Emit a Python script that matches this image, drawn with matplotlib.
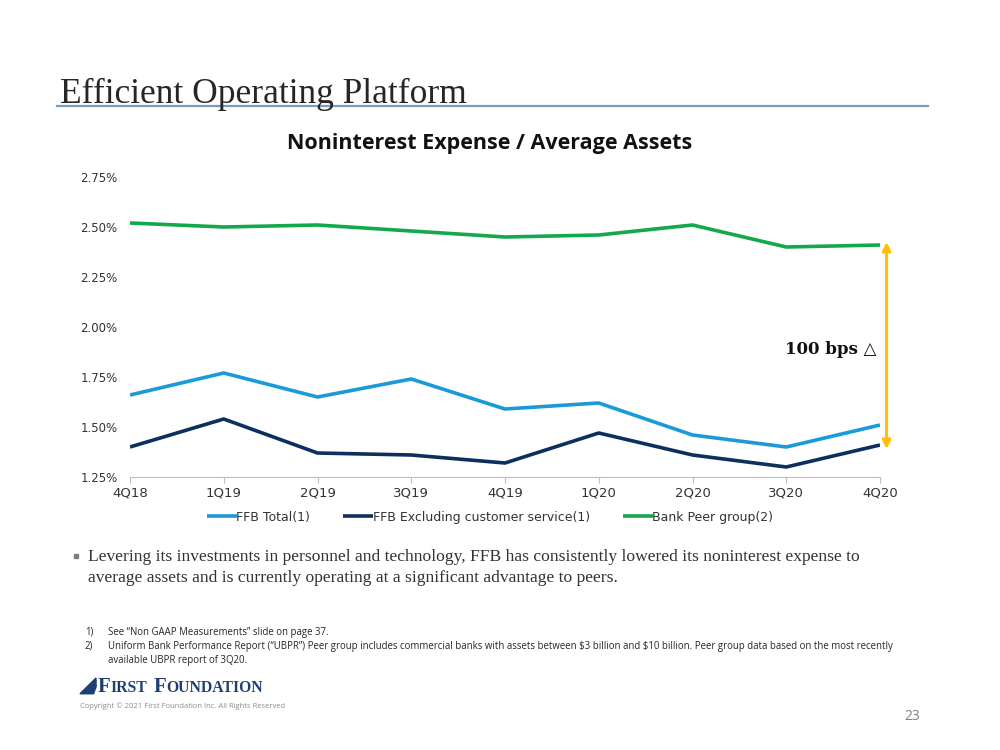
import matplotlib
matplotlib.use("Agg")
import matplotlib.pyplot as plt
from matplotlib.patches import Polygon
from matplotlib.ticker import FuncFormatter

quarters = ["4Q18", "1Q19", "2Q19", "3Q19", "4Q19", "1Q20", "2Q20", "3Q20", "4Q20"]
ffb_total = [1.66, 1.77, 1.65, 1.74, 1.59, 1.62, 1.46, 1.40, 1.51]
ffb_ex_cs = [1.40, 1.54, 1.37, 1.36, 1.32, 1.47, 1.36, 1.30, 1.41]
bank_peer = [2.52, 2.50, 2.51, 2.48, 2.45, 2.46, 2.51, 2.40, 2.41]
series_names = ["FFB Total(1)", "FFB Excluding customer service(1)", "Bank Peer group(2)"]
series_colors = ["#1a9ad9", "#0c2f5d", "#13a84b"]

fig = plt.figure(figsize=(10, 7.5), dpi=100)

# slide header
fig.text(0.060, 0.863, "Efficient Operating Platform", fontsize=25.5,
         family="Liberation Serif", color="#262626", va="baseline")
fig.add_artist(plt.Line2D([0.057, 0.928], [0.859, 0.859], color="#7a9cb8", lw=1.6))

ax = fig.add_axes([0.13, 0.364, 0.75, 0.40])
x = range(len(quarters))
for vals, name, col in zip([ffb_total, ffb_ex_cs, bank_peer], series_names, series_colors):
    ax.plot(x, vals, color=col, lw=2.6, label=name, solid_capstyle="butt")

ax.set_xlim(0, len(quarters) - 1)
ax.set_ylim(1.25, 2.75)
ax.set_yticks([1.25, 1.50, 1.75, 2.00, 2.25, 2.50, 2.75])
ax.yaxis.set_major_formatter(FuncFormatter(lambda v, p: f"{v:.2f}%"))
ax.set_xticks(list(x))
ax.set_xticklabels(quarters)
for s in ["top", "right", "left"]:
    ax.spines[s].set_visible(False)
ax.spines["bottom"].set_color("#bfbfbf")
ax.tick_params(axis="y", length=0, labelsize=8.5, labelcolor="#333333", pad=9)
ax.tick_params(axis="x", length=4, color="#bfbfbf", labelsize=9.5, labelcolor="#333333", pad=3)

ax.set_title("Noninterest Expense / Average Assets", fontsize=15.5, fontweight="bold",
             family="Open Sans", color="#111111", pad=20, x=0.48)

# 100 bps gap arrow between peer group and FFB
ax.annotate("", xy=(8.07, 1.39), xytext=(8.07, 2.425),
            arrowprops=dict(arrowstyle="<|-|>", color="#ffc000", lw=2.2,
                            mutation_scale=12, shrinkA=0, shrinkB=0),
            annotation_clip=False)
ax.text(7.96, 1.885, "100 bps \u25b3", ha="right", va="center", fontsize=12,
        fontweight="bold", family="DejaVu Serif", color="#111111")

leg = ax.legend(loc="upper center", bbox_to_anchor=(0.48, -0.075), ncol=3, frameon=False,
                fontsize=9, handlelength=2.4, handletextpad=0.0, columnspacing=2.6)
for t in leg.get_texts():
    t.set_color("#333333")

# bullet commentary
fig.add_artist(Polygon([[0.074, 0.261], [0.078, 0.261], [0.078, 0.256], [0.074, 0.256]],
                       closed=True, color="#7f7f7f", transform=fig.transFigure))
fig.text(0.088, 0.257, "Levering its investments in personnel and technology, FFB has consistently lowered its noninterest expense to",
         fontsize=12.6, family="Liberation Serif", color="#333333", va="center")
fig.text(0.088, 0.229, "average assets and is currently operating at a significant advantage to peers.",
         fontsize=12.6, family="Liberation Serif", color="#333333", va="center")

# footnotes
fn = dict(fontsize=6.9, family="Open Sans", color="#262626", va="center")
fig.text(0.085, 0.157, "1)", **fn)
fig.text(0.108, 0.157, "See \u201cNon GAAP Measurements\u201d slide on page 37.", **fn)
fig.text(0.085, 0.138, "2)", **fn)
fig.text(0.108, 0.138, "Uniform Bank Performance Report (\u201cUBPR\u201d) Peer group includes commercial banks with assets between \\$3 billion and \\$10 billion. Peer group data based on the most recently", **fn)
fig.text(0.108, 0.119, "available UBPR report of 3Q20.", **fn)

# logo and footer
for i in range(4):
    dx = i * 0.0035
    fig.add_artist(Polygon([[0.080 + dx, 0.075], [0.083 + dx, 0.075],
                            [0.096, 0.093 - i * 0.003], [0.096, 0.096 - i * 0.003]],
                           closed=True, color="#1f3f73", transform=fig.transFigure))
fig.canvas.draw()
renderer = fig.canvas.get_renderer()
xpos = 0.098
for piece, size in [("F", 15), ("IRST", 11.3), (" ", 11.3), ("F", 15), ("OUNDATION", 11.3)]:
    t = fig.text(xpos, 0.077, piece, fontsize=size, family="Liberation Serif",
                 fontweight="bold", color="#1f3f73", va="baseline")
    bb = t.get_window_extent(renderer)
    xpos += bb.width / fig.bbox.width if piece.strip() else 0.006
fig.text(0.080, 0.059, "Copyright \u00a9 2021 First Foundation Inc. All Rights Reserved",
         fontsize=5.5, family="Open Sans", color="#8c8c8c", va="center")
fig.text(0.920, 0.045, "23", fontsize=10, family="Open Sans", color="#7f7f7f",
         ha="right", va="center")

fig.savefig("out.png", dpi=100)
